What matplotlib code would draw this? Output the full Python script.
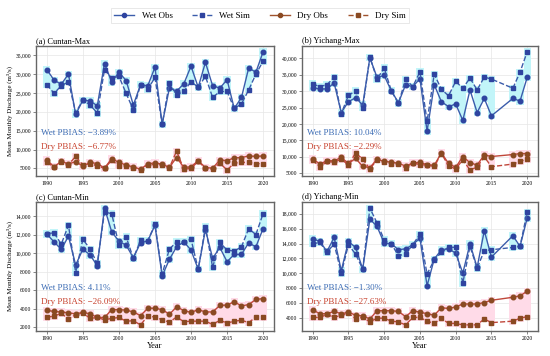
import matplotlib
matplotlib.use("Agg")
import matplotlib.pyplot as plt
import numpy as np
from matplotlib.lines import Line2D
from matplotlib.ticker import FuncFormatter

plt.rcParams['font.family'] = ['Liberation Serif', 'DejaVu Serif']

# ---- data ----
years_cuntan = list(range(1990, 2021))
years_yichang = list(range(1990, 2016)) + [2018, 2019, 2020]

# (a) Cuntan-Max
a_wet_obs = [31200, 28400, 27300, 30000, 19300, 23100, 22900, 21600, 32800, 27900, 30500, 28300,
             21800, 27200, 26900, 31800, 16700, 26300, 25500, 27400, 32100, 26500, 33100, 26900,
             26300, 28500, 20900, 23800, 31600, 30500, 35900]
a_wet_sim = [27200, 24900, 26900, 28000, 19800, 23100, 21800, 19700, 31200, 28900, 29400, 24900,
             20500, 27200, 26000, 29100, 16700, 27600, 24500, 25400, 28000, 26500, 29400, 23800,
             25400, 25400, 20900, 22100, 25800, 30000, 33400]
a_dry_obs = [7300, 5400, 6900, 6200, 6800, 5600, 6600, 6300, 5100, 7600, 6600, 5900,
             5400, 4800, 6200, 6500, 6100, 5300, 7900, 5300, 5400, 7100, 5200, 5100,
             7200, 7100, 7800, 7900, 8300, 8200, 8300]
a_dry_sim = [6600, 5400, 6800, 6000, 8200, 5900, 6300, 5700, 5000, 7200, 5700, 5600,
             5200, 4700, 6000, 6000, 6000, 5200, 9600, 4800, 5000, 6900, 5000, 4900,
             6400, 4600, 6400, 6600, 6600, 6300, 6200]

# (b) Yichang-Max
b_wet_obs = [31100, 30700, 30700, 32500, 23500, 26800, 28000, 25800, 40200, 34200, 34800, 30100,
             26500, 32000, 31400, 33800, 17800, 32000, 26800, 25300, 26100, 21100, 30400, 23500,
             27800, 22500, 27800, 27000, 34200]
b_wet_sim = [32200, 31400, 32000, 34200, 23200, 28700, 30100, 25000, 40400, 33700, 37100, 30100,
             26300, 33700, 31400, 35900, 20800, 35200, 30600, 28600, 33000, 30900, 34000, 30400,
             34300, 33700, 30900, 35800, 42000]
b_dry_obs = [9400, 7800, 8800, 8800, 9800, 8000, 9500, 7100, 6700, 9300, 8600, 8400,
             8000, 7200, 8100, 8300, 7600, 7400, 11200, 8000, 6800, 10100, 8200, 7500,
             10600, 10100, 10700, 11000, 11000]
b_dry_sim = [9000, 6900, 8600, 8400, 9300, 7500, 11200, 9300, 6300, 9100, 8500, 7900,
             7900, 6600, 8200, 7600, 7500, 7100, 11000, 7300, 6300, 9100, 6000, 6900,
             10000, 7000, 7800, 8600, 9300]

# (c) Cuntan-Min
c_wet_obs = [12070, 11240, 10420, 11850, 8730, 10450, 9810, 8660, 14900, 12320, 11310, 10880,
             9520, 11130, 11350, 13030, 7550, 9340, 10700, 11240, 10350, 8270, 12570, 9450,
             10630, 9090, 9880, 9880, 11130, 10700, 12670]
c_wet_sim = [12140, 12210, 10990, 13030, 7910, 11530, 10450, 8910, 14470, 14290, 10880, 11780,
             9450, 11420, 11350, 13140, 7770, 10450, 11240, 11240, 11530, 8270, 12850, 8480,
             11170, 10350, 10240, 10700, 12670, 12030, 14290]
c_dry_obs = [3830, 3700, 3650, 3550, 3450, 3600, 3450, 3050, 3050, 3900, 3900, 3850,
             3650, 3250, 4050, 4050, 3900, 3400, 4200, 3800, 3600, 3900, 3650, 3650,
             4350, 4400, 4750, 4300, 4450, 5000, 5100]
c_dry_sim = [3070, 3200, 3500, 2900, 3350, 3550, 2950, 3050, 2800, 2950, 3050, 2650,
             2700, 2250, 3200, 3100, 2800, 2550, 3100, 2600, 2650, 2650, 2650, 2300,
             2750, 2450, 2650, 2750, 2500, 3100, 3100]

# (d) Yichang-Min
d_wet_obs = [14650, 14290, 12950, 14820, 10350, 14290, 13480, 10580, 17280, 16300, 14060, 13970,
             13170, 13300, 13840, 14740, 8340, 11920, 13170, 13300, 12720, 10040, 13970, 10800,
             15720, 12190, 15050, 13620, 17420]
d_wet_sim = [13970, 14150, 12810, 13970, 10040, 13840, 12590, 10580, 18760, 16750, 14510, 13970,
             12360, 12630, 13840, 15270, 9900, 11830, 12810, 13530, 13480, 8700, 13620, 10710,
             13040, 13170, 13480, 13620, 18220]
d_dry_obs = [5100, 4600, 4600, 4900, 4600, 4800, 4400, 4300, 3900, 5000, 5000, 5000,
             4900, 4200, 5000, 4800, 4600, 4400, 5400, 5300, 5500, 5900, 5900, 5900,
             6100, 6400, 6800, 7000, 7600]
d_dry_sim = [4100, 4100, 4500, 4100, 4400, 4700, 3900, 4100, 3500, 4000, 4000, 3600,
             3500, 3100, 4100, 4100, 3600, 3300, 4000, 3300, 3300, 3100, 3100, 3100,
             3900, 3400, 3600, 4000, 4200]

panels = [
    ("(a) Cuntan-Max", years_cuntan, a_wet_obs, a_wet_sim, a_dry_obs, a_dry_sim,
     "Wet PBIAS: \u22123.89%", "Dry PBIAS: \u22126.77%", np.arange(5000, 35001, 5000)),
    ("(b) Yichang-Max", years_yichang, b_wet_obs, b_wet_sim, b_dry_obs, b_dry_sim,
     "Wet PBIAS: 10.04%", "Dry PBIAS: \u22122.29%", np.arange(5000, 40001, 5000)),
    ("(c) Cuntan-Min", years_cuntan, c_wet_obs, c_wet_sim, c_dry_obs, c_dry_sim,
     "Wet PBIAS: 4.11%", "Dry PBIAS: \u221226.09%", np.arange(2000, 14001, 2000)),
    ("(d) Yichang-Min", years_yichang, d_wet_obs, d_wet_sim, d_dry_obs, d_dry_sim,
     "Wet PBIAS: \u22121.30%", "Dry PBIAS: \u221227.63%", np.arange(4000, 18001, 2000)),
]

wet_line = '#3b5cab'
wet_mk = '#2f44a0'
dry_line = '#c0473a'
dry_mk = '#8a4a22'
wet_glow = '#c2f5f9'
dry_glow = '#ffdbe8'


def fmt(v, pos):
    if v >= 10000:
        return '{:,.0f}'.format(v)
    return '{:.0f}'.format(v)


fig = plt.figure(figsize=(5.5, 3.56), dpi=100)
rects = [(0.0655, 0.506, 0.4325, 0.365), (0.549, 0.506, 0.429, 0.365),
         (0.0655, 0.071, 0.4325, 0.361), (0.549, 0.071, 0.429, 0.361)]

for i, (title, yrs, wo, ws, do, ds, wtxt, dtxt, yt) in enumerate(panels):
    ax = fig.add_axes(rects[i])
    yrs = np.array(yrs)
    wo, ws, do, ds = map(np.array, (wo, ws, do, ds))
    allv = np.concatenate([wo, ws, do, ds])
    rng = allv.max() - allv.min()
    pad = rng * 0.03

    # glow boxes behind each year's pair of points
    lo = np.minimum(wo, ws) - pad
    ax.bar(yrs, np.maximum(wo, ws) + pad - lo, bottom=lo, width=1.0,
           color=wet_glow, lw=0, zorder=1)
    lo = np.minimum(do, ds) - pad
    ax.bar(yrs, np.maximum(do, ds) + pad - lo, bottom=lo, width=1.0,
           color=dry_glow, lw=0, zorder=1)

    ax.plot(yrs, wo, '-', color=wet_line, lw=1, marker='o', ms=3.3,
            mfc=wet_mk, mec=wet_mk, zorder=3)
    ax.plot(yrs, ws, '--', color=wet_line, lw=1, marker='s', ms=3.3,
            mfc=wet_mk, mec=wet_mk, zorder=3)
    ax.plot(yrs, do, '-', color=dry_line, lw=1, marker='o', ms=3.3,
            mfc=dry_mk, mec=dry_mk, zorder=3)
    ax.plot(yrs, ds, '--', color=dry_line, lw=1, marker='s', ms=3.3,
            mfc=dry_mk, mec=dry_mk, zorder=3)

    ax.set_xlim(1988.5, 2021.5)
    ax.set_ylim(allv.min() - rng * 0.05, allv.max() + rng * 0.05)
    ax.set_xticks(range(1990, 2021, 5))
    ax.set_yticks(yt)
    ax.yaxis.set_major_formatter(FuncFormatter(fmt))
    ax.tick_params(labelsize=4, length=2, width=0.5, color='#555555', pad=1.5)
    ax.grid(True, color='#e6e6e6', lw=0.5, zorder=0)
    ax.set_axisbelow(True)
    for s in ax.spines.values():
        s.set_color('#666666')
        s.set_linewidth(1)

    ax.set_title(title, loc='left', fontsize=6, pad=2)
    ax.text(0.02, 0.33, wtxt, transform=ax.transAxes, fontsize=6.5,
            color='#3d6db5', va='center', zorder=4)
    ax.text(0.02, 0.22, dtxt, transform=ax.transAxes, fontsize=6.5,
            color='#c8432f', va='center', zorder=4)

    if i % 2 == 0:
        ax.set_ylabel('Mean Monthly Discharge (m\u00b3/s)', fontsize=5, labelpad=2)
    if i >= 2:
        ax.set_xlabel('Year', fontsize=6, labelpad=1)

handles = [
    Line2D([], [], color=wet_line, ls='-', marker='o', ms=3, mfc=wet_mk, mec=wet_mk, lw=1),
    Line2D([], [], color=wet_line, ls='--', marker='s', ms=3, mfc=wet_mk, mec=wet_mk, lw=1),
    Line2D([], [], color='#a0522d', ls='-', marker='o', ms=3, mfc=dry_mk, mec=dry_mk, lw=1),
    Line2D([], [], color='#a0522d', ls='--', marker='s', ms=3, mfc=dry_mk, mec=dry_mk, lw=1),
]
leg = fig.legend(handles, ['Wet Obs', 'Wet Sim', 'Dry Obs', 'Dry Sim'], ncol=4,
                 loc='center', bbox_to_anchor=(0.473, 0.956), fontsize=6.5,
                 frameon=True, fancybox=False, handlelength=2.2, columnspacing=2.2,
                 borderpad=0.4)
leg.get_frame().set_edgecolor('#dddddd')
leg.get_frame().set_linewidth(0.6)

fig.savefig('out.png', dpi=100)
